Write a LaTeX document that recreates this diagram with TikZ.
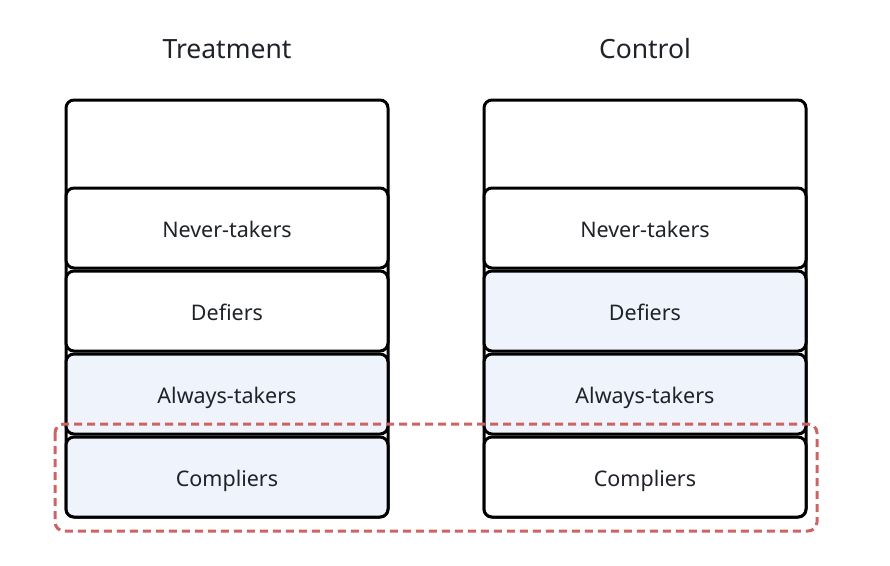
\documentclass[tikz,border=0pt]{standalone}
\usepackage{fontspec}
\setmainfont{Noto Sans}
\definecolor{txt}{HTML}{1F2329}
\definecolor{lightblue}{HTML}{EEF3FC}
\definecolor{dashred}{HTML}{CD6464}
\begin{document}
\begin{tikzpicture}[x=1pt,y=-1pt,
  frame/.style={draw=black,line width=3pt,rounded corners=8pt,fill=white},
  cell/.style={draw=black,line width=3pt,rounded corners=8pt,minimum width=322pt,minimum height=80pt,inner sep=0pt,text=txt,font=\fontsize{21.5}{24}\selectfont},
  blue/.style={fill=lightblue},
  white/.style={fill=white},
  title/.style={text=txt,font=\fontsize{26.5}{30}\selectfont},
  lbl/.style={text=txt,font=\fontsize{21.5}{24}\selectfont},
  group/.style={draw=dashred,line width=3pt,dash pattern=on 8pt off 5pt,rounded corners=9pt}]
\useasboundingbox (0,0) rectangle (890,565);
% titles
\node[title] (tT) at (227,49) {Treatment};
\node[title] (tC) at (645,49) {Control};
% treatment column
\draw[frame] (66,100) rectangle (388,517);
\node[cell,white] (tnever) at (227,228) {};
\node[cell,white] (tdef) at (227,311) {};
\node[cell,blue] (talw) at (227,394) {};
\node[cell,blue] (tcomp) at (227,477) {};
% control column
\draw[frame] (484,100) rectangle (806,517);
\node[cell,white] (cnever) at (645,228) {};
\node[cell,blue] (cdef) at (645,311) {};
\node[cell,blue] (calw) at (645,394) {};
\node[cell,white] (ccomp) at (645,477) {};
% labels
\foreach \n/\t in {tnever/Never-takers,tdef/Defiers,talw/Always-takers,tcomp/Compliers,cnever/Never-takers,cdef/Defiers,calw/Always-takers,ccomp/Compliers}
  \node[lbl,anchor=base] (\n-l) at ([yshift=-9pt]\n.center) {\t};
% compliers group
\draw[group] (55,424) rectangle (817,531);
\end{tikzpicture}
\end{document}
